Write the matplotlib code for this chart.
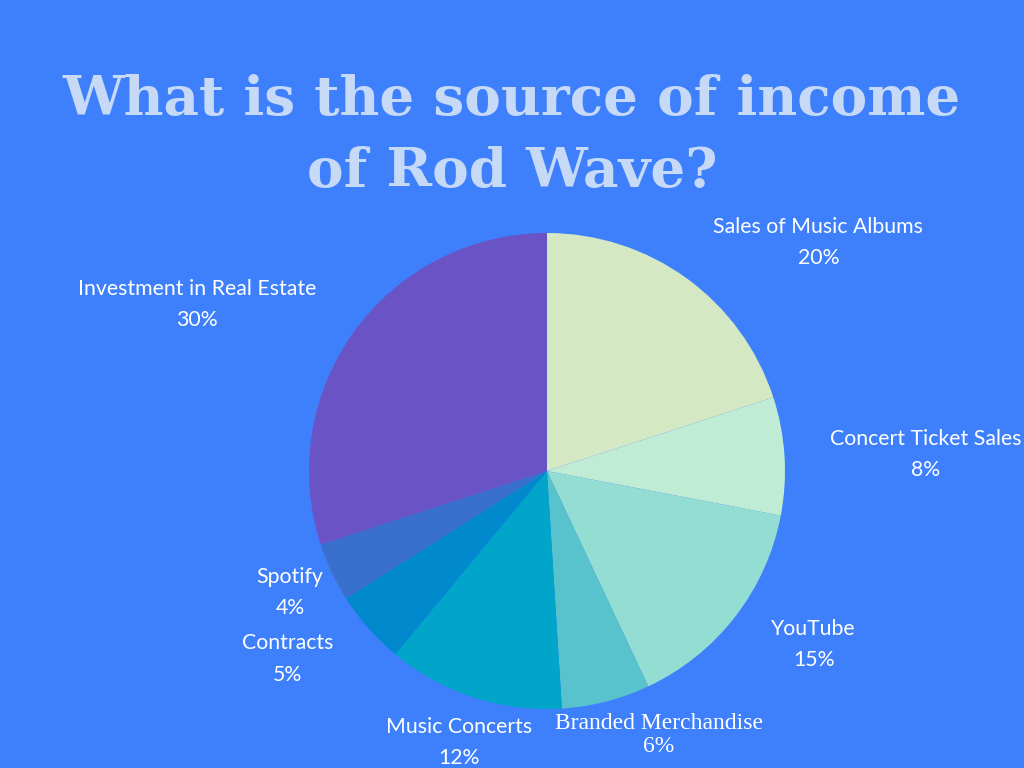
import matplotlib
matplotlib.use("Agg")
import matplotlib.pyplot as plt

# chart data
labels = ["Sales of Music Albums", "Concert Ticket Sales", "YouTube",
          "Branded Merchandise", "Music Concerts", "Contracts", "Spotify",
          "Investment in Real Estate"]
shares = [20, 8, 15, 6, 12, 5, 4, 30]
colors = ["#d4e8c4", "#c0ecd6", "#94ddd2", "#58c3cd", "#00a5c9",
          "#0089cd", "#3a70cd", "#6a53c5"]

# label anchors (pie units, radius = 1)
label_pos = [(1.14, 0.96), (1.59, 0.07), (1.12, -0.73), (0.47, -1.11),
             (-0.37, -1.14), (-1.09, -0.79), (-1.08, -0.51), (-1.47, 0.70)]

bg = "#3e80fc"
W, H = 1024, 768
cx, cy, R = 547, 471, 238

fig = plt.figure(figsize=(W / 100, H / 100), dpi=100, facecolor=bg)
ax = fig.add_axes([0, 0, 1, 1])
ax.set_facecolor(bg)

ax.pie(shares, colors=colors, startangle=90, counterclock=False,
       radius=1, center=(0, 0), wedgeprops=dict(linewidth=0))

ax.set_xlim(-cx / R, (W - cx) / R)
ax.set_ylim((cy - H) / R, cy / R)
ax.set_aspect("auto")
ax.axis("off")

for i, (lab, val) in enumerate(zip(labels, shares)):
    x, y = label_pos[i]
    if lab == "Branded Merchandise":
        ax.text(x, y, f"{lab}\n{val}%", ha="center", va="center", color="white",
                fontsize=17, family="Liberation Serif", linespacing=1.15)
    else:
        ax.text(x, y, f"{lab}\n{val}%", ha="center", va="center", color="white",
                fontsize=15.3, family=["Lato", "DejaVu Sans"], linespacing=1.7)

fig.text(0.5, 1 - 100 / H, "What is the source of income", ha="center", va="center",
         color="#c6d9f7", fontsize=39.5, fontweight="bold", family="DejaVu Serif")
fig.text(0.5, 1 - 172 / H, "of Rod Wave?", ha="center", va="center",
         color="#c6d9f7", fontsize=39.5, fontweight="bold", family="DejaVu Serif")

fig.savefig("out.png", dpi=100, facecolor=bg)
